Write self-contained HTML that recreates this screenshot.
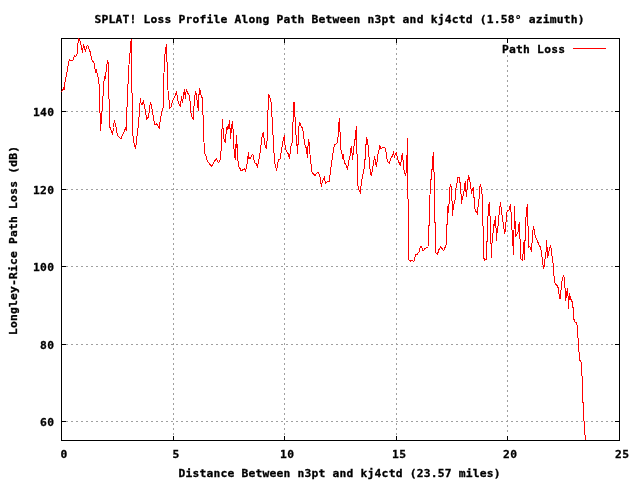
<!DOCTYPE html>
<html lang="en"><head><meta charset="utf-8"><title>SPLAT! Loss Profile</title>
<style>
html,body{margin:0;padding:0;background:#fff}
body{width:640px;height:480px;overflow:hidden;position:relative}
svg{position:absolute;left:0;top:0;display:block}
text{font-family:"DejaVu Sans Mono","Liberation Mono",monospace;font-weight:bold;font-size:11.3px;fill:#000;stroke:#000;stroke-width:0.3px}
.g{stroke:#a0a0a0;stroke-width:1;stroke-dasharray:2 3;fill:none}
.k{stroke:#000;stroke-width:1;fill:none}
.r{stroke:#ff0000;stroke-width:1;fill:none;stroke-linejoin:miter}
</style></head><body>
<svg width="640" height="480" viewBox="0 0 640 480">
<rect x="0" y="0" width="640" height="480" fill="#ffffff"/>
<g shape-rendering="crispEdges">
<line class="g" x1="66" y1="111.5" x2="615" y2="111.5"/>
<line class="g" x1="66" y1="189.5" x2="615" y2="189.5"/>
<line class="g" x1="66" y1="266.5" x2="615" y2="266.5"/>
<line class="g" x1="66" y1="344.5" x2="615" y2="344.5"/>
<line class="g" x1="66" y1="421.5" x2="615" y2="421.5"/>
<line class="g" x1="173.5" y1="43" x2="173.5" y2="435"/>
<line class="g" x1="284.5" y1="43" x2="284.5" y2="435"/>
<line class="g" x1="396.5" y1="43" x2="396.5" y2="435"/>
<line class="g" x1="507.5" y1="55" x2="507.5" y2="435"/>
<rect class="k" x="61.5" y="38.5" width="558" height="402"/>
<line class="k" x1="62" y1="111.5" x2="66" y2="111.5"/><line class="k" x1="615" y1="111.5" x2="619" y2="111.5"/>
<line class="k" x1="62" y1="189.5" x2="66" y2="189.5"/><line class="k" x1="615" y1="189.5" x2="619" y2="189.5"/>
<line class="k" x1="62" y1="266.5" x2="66" y2="266.5"/><line class="k" x1="615" y1="266.5" x2="619" y2="266.5"/>
<line class="k" x1="62" y1="344.5" x2="66" y2="344.5"/><line class="k" x1="615" y1="344.5" x2="619" y2="344.5"/>
<line class="k" x1="62" y1="421.5" x2="66" y2="421.5"/><line class="k" x1="615" y1="421.5" x2="619" y2="421.5"/>
<line class="k" x1="173.5" y1="436" x2="173.5" y2="440"/><line class="k" x1="173.5" y1="39" x2="173.5" y2="43"/>
<line class="k" x1="284.5" y1="436" x2="284.5" y2="440"/><line class="k" x1="284.5" y1="39" x2="284.5" y2="43"/>
<line class="k" x1="396.5" y1="436" x2="396.5" y2="440"/><line class="k" x1="396.5" y1="39" x2="396.5" y2="43"/>
<line class="k" x1="507.5" y1="436" x2="507.5" y2="440"/><line class="k" x1="507.5" y1="39" x2="507.5" y2="43"/>
<line class="r" x1="573" y1="48.5" x2="606" y2="48.5"/>
<polyline class="r" points="61.5,92.5 63.5,88 64.2,90 65,82 66.9,72.5 68.5,63 69.4,59.4 70.6,60.25 73.1,60 74.4,55.6 75.6,56.5 77.25,53.75 77.75,45 78.75,39 80,41.25 81.25,46.25 82.5,53 83.4,44.4 84.4,46.9 85.4,52.25 86.5,46.25 87.75,45.25 89,48.75 90.4,52.5 91.9,60 94,63 95.6,72.5 96.25,70 98.1,76.9 99.4,86.5 100,112.5 100.5,130.5 101.5,117.5 102.5,105 103.5,87.5 104.4,75.6 105.25,79.4 106.5,67.5 107.5,61.25 108.5,63 108.6,90 108.75,95 109.75,111 110,127.5 111.25,131 112.5,134.4 113.5,127.5 114.4,120 115.6,125 116.9,132.5 118.1,136 121,139.2 122.5,135 124.4,131 125.6,127 126.25,131 126.9,112.5 127.5,85 128.1,83.75 128.75,67.5 130,53.75 130.6,43.75 131.5,39 131.5,52.5 131.9,87 132.5,117.5 133.1,139 135.4,148.75 136.9,139.6 137.25,129.4 138.1,128 138.5,117.5 139.4,116.25 139.75,105 140.6,98.5 141.25,105 142.25,101.9 142.5,103.75 143.5,101.5 144.4,105.6 145.6,112.5 146.6,119.4 148.5,116.9 149.4,110 150.4,102.5 151.5,105.6 152.75,113 153.75,120 154.75,124.4 156.5,124 157.75,125.6 159.4,128 160.25,120 161.9,111.25 163.1,108 163.6,87 164.4,59.4 165.6,49.4 166.5,44 166.6,58.75 167.5,66.25 167.75,88 168.75,97.5 169.75,108 171.25,106.9 172.5,100.6 174.4,97.5 175.6,94.75 176.5,90.6 177.5,99.4 179.4,105 180.4,106.25 181.5,96.25 182.5,103 183.75,93.75 184.6,89.4 185.4,99.4 186.25,89.4 187.75,93 189.4,95.6 190.25,102.5 191.25,116.25 192.5,118 193.5,119.4 193.75,111.25 194.4,98 195.6,91.5 196.6,95.6 197.5,104.4 198.5,110.6 198.75,97.5 199.6,88 200.6,93.75 201.5,96.9 202.6,98.5 202.9,112 203.75,138.75 204.75,153 206.25,156.9 207.25,160.6 209.4,163.75 211.5,166.25 213.75,162.5 216.25,158.5 217.5,161.5 218.75,162.5 220,160 220.6,151.25 221.5,150 221.9,131.25 222.5,119.4 223.1,130 224,138.75 225.4,142.5 226.5,127.5 227.25,128.75 228.5,123.75 229,128.75 229.75,120 230.4,139.4 231.6,126.9 232.5,120.6 232.75,128.75 233.5,129.4 233.75,146.25 234.75,157.5 235.25,148 235.6,160 236.25,135 236.9,147.5 237.5,143.75 237.75,158.75 238.75,166.25 240,168.5 241.25,171 242.5,170 244.4,168.5 245.6,171 246.7,166.5 247.5,159.4 248.5,152.5 249,159.4 250,156.9 250.6,158 252.5,154.4 253.5,155.6 254.4,162.5 256.25,163.75 257.5,168 258.1,163.75 259.4,156.9 260.6,149.4 261.6,140 262.5,133.75 263.5,132.5 264.4,142.5 265.4,146.9 266.25,148 266.9,141.25 267.5,140 267.9,114.4 268.4,94 269.4,96.25 270.6,99.4 271.5,105.6 271.9,115 272.9,131.25 273.6,152.5 274.75,153.75 275,163.75 276.5,170.6 277.5,165 278.5,160 280,158.75 280.25,155 281.25,152.5 282.5,143.75 283.5,138 284.4,136.25 284.75,142.5 285.4,149 286.9,151.9 288.5,154.4 289.4,158.75 290.6,148.75 291.5,143.75 292.5,142.5 292.75,122.5 293.5,120.6 293.5,102.25 294.4,103 294.75,116.9 295.6,117.5 295.6,134.4 296.5,135.6 296.6,145.6 297.25,146.25 297.5,153.75 297.75,145 298.5,144 298.5,129.4 299.6,122.25 300.6,125 302.25,128 303.5,132.5 304,139.4 305,145 306,147.5 307.5,157.5 308.1,144.4 308.5,139 309.4,145 310,154.4 310.6,163 311.5,165 311.9,171.9 313.1,173.75 315.25,175.6 317.25,172.25 318.5,173 319.75,176.25 320.6,180 321.25,186.9 322.5,181.25 324.4,177.25 325.4,183.5 326.9,181.9 329.4,181.25 329.75,176.9 330.6,170 331.5,163 332.5,156.9 333.5,150 334.4,145.25 337.5,142.5 337.9,136.9 338.5,136.25 338.5,125.6 339.6,118 339.75,131.9 340.6,132.5 340.6,148 341.9,153 342.5,158.5 343.4,154.4 343.75,158.75 344.7,163 346.25,165.6 347.5,168.6 348.75,162.5 349.4,156.6 350.25,155.6 350.6,149.4 351.5,145.6 352.5,160 353.5,151.25 353.75,147.5 354.75,142.5 355.6,133 356.6,126 356.6,153.75 357.5,154.4 357.75,185 359,190 360.25,192.25 361.5,182.5 362.75,175 364,168.75 364.75,160 365.6,158.75 365.9,146.25 366.5,136.9 366.9,145 367.5,139.4 368.1,146.25 369,156.9 369.75,167.5 371.25,176.25 372.5,170 373.5,162.5 374.6,156.25 376.25,166.9 377.25,160 378.5,150.6 379.4,149.4 379.6,145 380.6,148.75 382.5,147.75 384,147.25 385.25,148 386.25,153.75 387.25,160 388.1,161.9 389.4,163.5 390.6,158.75 391.9,156.9 393.5,152.25 394.4,156.9 395.6,153.75 396.5,153 397.5,158 398.75,161.9 400.6,166.25 401.5,157.5 402.5,153 402.9,160 403.75,161.25 404,170 405.6,176.25 406.25,171.25 406.5,155.6 407.25,155 407.5,138 407.9,198.75 408.5,199.4 408.5,259.4 410.25,261.25 411.9,260.25 414,261.5 415.6,255 417.5,254 419,251.9 420,248 421.25,246.25 423.1,251 425,248.5 426.9,247.75 428.5,246.5 428.75,225.6 429.6,225 429.75,200 430,195 430.25,180 431.25,179.4 431.5,170 432.25,169.4 432.5,159.4 433.5,152 433.5,170 434.4,173 434.6,222.5 435.4,223 435.6,252.5 437.5,254.4 438.75,250 440.6,247.25 441.9,248.5 443.6,250.5 445,247.5 446.2,244.4 446.5,225 447.5,224 447.5,206.25 448.5,205.6 448.75,212.5 449.4,191.25 450.4,184.4 451.25,186.9 451.5,200 452.25,201.25 452.5,215.6 453.5,205 454.75,202.5 455.6,195 456.25,183.75 457.25,182.5 457.5,177.25 459.4,177.25 459.75,182.5 460.6,183 461,194 461.5,203.75 462.4,197.5 463.75,193.75 464.4,186.5 465.25,181.25 465.6,188 466.4,196.5 466.8,190.4 467.5,189.6 467.75,181.25 468.5,176.25 469.5,177.6 469.9,181.9 470.6,182.5 471,188.75 471.5,193.5 472.25,189.4 473.4,187.25 473.5,196 474.4,198.5 474.75,208.75 476.25,211.9 477.25,213.75 478.1,206.25 478.8,199.4 479.5,198 479.7,187.5 480.4,184 481.25,188 481.9,193.75 482.6,194.4 482.75,225.6 483.5,226.25 483.5,257.5 484.75,260.25 486.25,259.4 486.5,242 487.25,241.5 487.5,216.9 488.5,215.6 488.75,205 489.6,202 489.75,215.6 490.4,216.25 490.6,243.5 491.4,244.5 491.5,257.5 491.9,246.25 492.4,234 493.5,233.5 493.75,227 494.4,220 494.75,226.25 495.25,215.6 496,227.5 496.5,240.6 497.4,227 498.5,225 498.75,216.9 499.75,208.75 500.5,202.25 501.25,208.75 502.1,215.6 503.1,222.5 504,228.75 504.75,234.4 505.5,227 506.25,220 506.7,213 507.5,210.6 509,210 509.7,207.5 510.6,204.2 511,212 511.6,213.5 512,230 512.6,230.6 512.75,245.6 513.5,246.25 513.5,254.75 514,230 514.4,206 515,221 515.5,236.5 516.9,234.5 518.1,232 518.75,226 519.4,222 519.75,238.75 520.6,240.6 520.6,258.75 522.5,260.6 523.1,253 523.5,245.6 524.4,240 524.4,260 525,242.5 525.5,217.5 526.5,216.25 526.5,209.4 527.5,204.2 527.6,225.6 528.4,226.25 528.5,247.5 529.75,246.25 531.25,250 531.9,245.6 532.5,234 533.5,226 534.4,231.5 535.3,236.5 537.5,241.25 539.4,245.6 540.6,247.5 541.5,253 542.5,260.5 543.5,268.75 544.6,265 545.4,253 546.25,251.9 546.5,240 547.25,249.4 547.75,257.5 548.5,251.9 549.4,250 550.6,245 551.5,251.25 552.25,258 553.1,263.75 553.6,265 553.6,275.6 554.5,276.5 554.75,282.5 556,284.4 557.5,286.25 558.5,288.75 559.4,298 560.25,298 560.6,291.9 561.25,289.4 561.5,283 562.5,278.75 563.4,276 564.4,277.5 564.75,285 565.25,290 565.6,301.25 566.25,291.25 566.9,297.5 567.5,288 568.1,297.5 568.5,308.75 569,300 569.6,293 570,300 570.6,296.25 571.25,300 572.5,302.5 572.75,307.5 573.5,308 573.6,317 574.4,321.9 576.25,322.5 577.25,326.25 577.5,337.5 578.4,338.75 578.5,351.9 579.4,352.5 579.75,360 581.25,362.5 581.5,375.6 582.5,376.25 582.5,402.5 583.5,403 583.5,420.5 584.5,421.5 584.5,434.5 585.5,435.5 585.5,440"/>
</g>
<text x="94.5" y="23" textLength="490" lengthAdjust="spacing">SPLAT! Loss Profile Along Path Between n3pt and kj4ctd (1.58° azimuth)</text>
<text x="502" y="53" textLength="63" lengthAdjust="spacing">Path Loss</text>
<text x="60.5" y="458" textLength="7" lengthAdjust="spacing">0</text>
<text x="172.5" y="458" textLength="7" lengthAdjust="spacing">5</text>
<text x="280.0" y="458" textLength="14" lengthAdjust="spacing">10</text>
<text x="392.0" y="458" textLength="14" lengthAdjust="spacing">15</text>
<text x="503.0" y="458" textLength="14" lengthAdjust="spacing">20</text>
<text x="615.0" y="458" textLength="14" lengthAdjust="spacing">25</text>
<text x="33" y="116" textLength="21" lengthAdjust="spacing">140</text>
<text x="33" y="194" textLength="21" lengthAdjust="spacing">120</text>
<text x="33" y="271" textLength="21" lengthAdjust="spacing">100</text>
<text x="40" y="349" textLength="14" lengthAdjust="spacing">80</text>
<text x="40" y="426" textLength="14" lengthAdjust="spacing">60</text>
<text x="178.5" y="477" textLength="322" lengthAdjust="spacing">Distance Between n3pt and kj4ctd (23.57 miles)</text>
<text transform="translate(17,335) rotate(-90)" x="0" y="0" textLength="189" lengthAdjust="spacing">Longley-Rice Path Loss (dB)</text>
</svg>
</body></html>
